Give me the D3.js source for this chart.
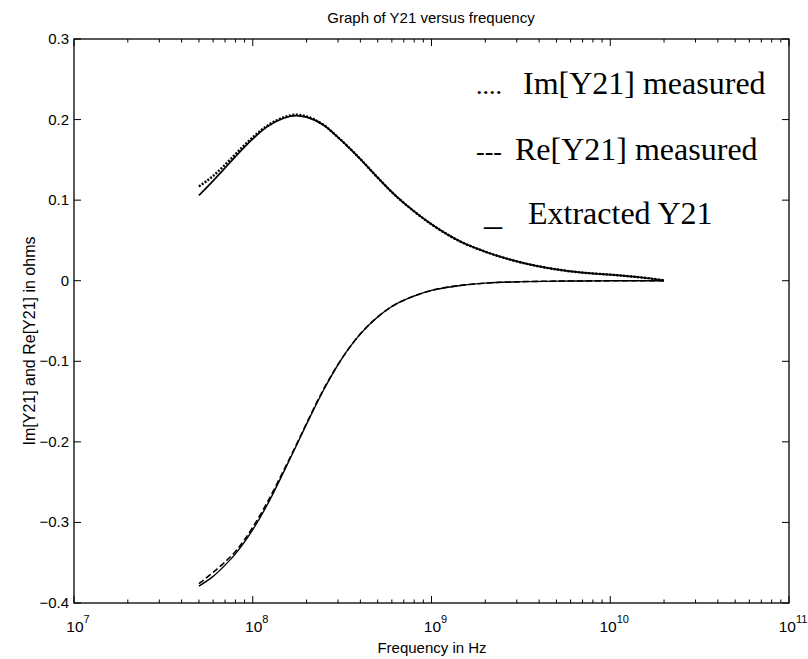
<!DOCTYPE html>
<html><head><meta charset="utf-8">
<script src="https://cdn.jsdelivr.net/npm/d3@7"></script>
<style>body{margin:0;background:#fff}</style>
</head><body>
<script>
const freq = [5e7,6e7,7e7,8e7,1e8,1.2e8,1.5e8,1.75e8,2e8,2.5e8,3e8,4e8,5e8,6e8,8e8,1e9,1.5e9,2e9,3e9,5e9,7e9,1e10,1.5e10,2e10];
const imExtracted = [0.106,0.124,0.140,0.154,0.176,0.191,0.202,0.205,0.203,0.193,0.178,0.151,0.128,0.110,0.086,0.070,0.047,0.036,0.024,0.014,0.010,0.0075,0.004,0.0005];
const reExtracted = [-0.379,-0.367,-0.353,-0.339,-0.309,-0.279,-0.236,-0.205,-0.178,-0.135,-0.104,-0.066,-0.045,-0.032,-0.019,-0.012,-0.0055,-0.003,-0.0014,-0.0005,-0.0003,-0.0001,0,0];
const imMeasured = [0.117,0.130,0.144,0.157,0.178,0.192,0.203,0.206,0.204,0.193,0.178,0.151,0.128,0.110,0.086,0.070,0.047,0.036,0.024,0.014,0.010,0.0075,0.004,0.0005];
const reMeasured = [-0.376,-0.362,-0.349,-0.336,-0.306,-0.276,-0.234,-0.204,-0.177,-0.134,-0.104,-0.066,-0.045,-0.032,-0.019,-0.012,-0.0055,-0.003,-0.0014,-0.0005,-0.0003,-0.0001,0,0];
const yTicks = [-0.4,-0.3,-0.2,-0.1,0,0.1,0.2,0.3];
const yTickLabels = ["\u22120.4","\u22120.3","\u22120.2","\u22120.1","0","0.1","0.2","0.3"];
const xDecades = [7,8,9,10,11];
const legendItems = [{mark:"....",text:"Im[Y21] measured"},{mark:"---",text:"Re[Y21] measured"},{mark:"_",text:"Extracted Y21"}];

const W=808,H=659;
const L=74,R=789,T=39,B=603;
const svg=d3.select("body").append("svg").attr("width",W).attr("height",H);
const x=d3.scaleLog().domain([1e7,1e11]).range([L,R]);
const y=d3.scaleLinear().domain([-0.4,0.3]).range([B,T]);

const sans="'Liberation Sans', Arial, Helvetica, sans-serif";
const serif="'Liberation Serif', 'Times New Roman', serif";

const minor=[];
for(let d=7;d<11;d++){for(let k=2;k<=9;k++)minor.push(k*Math.pow(10,d));}
const major=xDecades.map(d=>Math.pow(10,d));
const g=svg.append("g").attr("stroke","#000").attr("stroke-width",1);
minor.forEach(v=>{
  g.append("line").attr("x1",x(v)).attr("x2",x(v)).attr("y1",B).attr("y2",B-3.5);
  g.append("line").attr("x1",x(v)).attr("x2",x(v)).attr("y1",T).attr("y2",T+3.5);
});
major.forEach(v=>{
  g.append("line").attr("x1",x(v)).attr("x2",x(v)).attr("y1",B).attr("y2",B-7);
  g.append("line").attr("x1",x(v)).attr("x2",x(v)).attr("y1",T).attr("y2",T+7);
});
yTicks.forEach(v=>{
  g.append("line").attr("x1",L).attr("x2",L+7).attr("y1",y(v)).attr("y2",y(v));
  g.append("line").attr("x1",R).attr("x2",R-7).attr("y1",y(v)).attr("y2",y(v));
});
svg.append("rect").attr("x",L).attr("y",T).attr("width",R-L).attr("height",B-T)
  .attr("fill","none").attr("stroke","#000").attr("stroke-width",1.3);

yTicks.forEach((v,i)=>{
  svg.append("text").attr("x",L-5).attr("y",y(v)+5).attr("text-anchor","end")
    .attr("font-family",sans).attr("font-size",15).text(yTickLabels[i]);
});
xDecades.forEach(d=>{
  const t=svg.append("text").attr("x",x(Math.pow(10,d))+4).attr("y",632).attr("text-anchor","middle")
    .attr("font-family",sans).attr("font-size",15.5);
  t.append("tspan").text("10");
  t.append("tspan").attr("dy",-9).attr("font-size",11).text(d);
});

svg.append("text").attr("x",431).attr("y",23).attr("text-anchor","middle")
  .attr("font-family",sans).attr("font-size",15).text("Graph of Y21 versus frequency");
svg.append("text").attr("x",432).attr("y",653).attr("text-anchor","middle")
  .attr("font-family",sans).attr("font-size",15).text("Frequency in Hz");
svg.append("text").attr("transform",`translate(35,341) rotate(-90)`).attr("text-anchor","middle")
  .attr("font-family",sans).attr("font-size",16).text("Im[Y21] and Re[Y21] in ohms");

const line=(arr)=>d3.line().x((d,i)=>x(freq[i])).y(d=>y(d)).curve(d3.curveMonotoneX)(arr);
svg.append("path").attr("d",line(imExtracted)).attr("fill","none").attr("stroke","#000").attr("stroke-width",1.7);
svg.append("path").attr("d",line(reExtracted)).attr("fill","none").attr("stroke","#000").attr("stroke-width",1.4);
svg.append("path").attr("d",line(imMeasured)).attr("fill","none").attr("stroke","#000").attr("stroke-width",2.4).attr("stroke-dasharray","2,1.5");
svg.append("path").attr("d",line(reMeasured)).attr("fill","none").attr("stroke","#000").attr("stroke-width",1.6).attr("stroke-dasharray","6,3");

const legY=[94,160,224];
const legX=[523,515,528];
legendItems.forEach((it,i)=>{
  svg.append("text").attr("x",i==2?484:476).attr("y",legY[i]).attr("font-family",serif).attr("font-size",i==2?36:26).text(it.mark);
  svg.append("text").attr("x",legX[i]).attr("y",legY[i]).attr("font-family",serif).attr("font-size",32).text(it.text);
});
</script>
</body></html>
